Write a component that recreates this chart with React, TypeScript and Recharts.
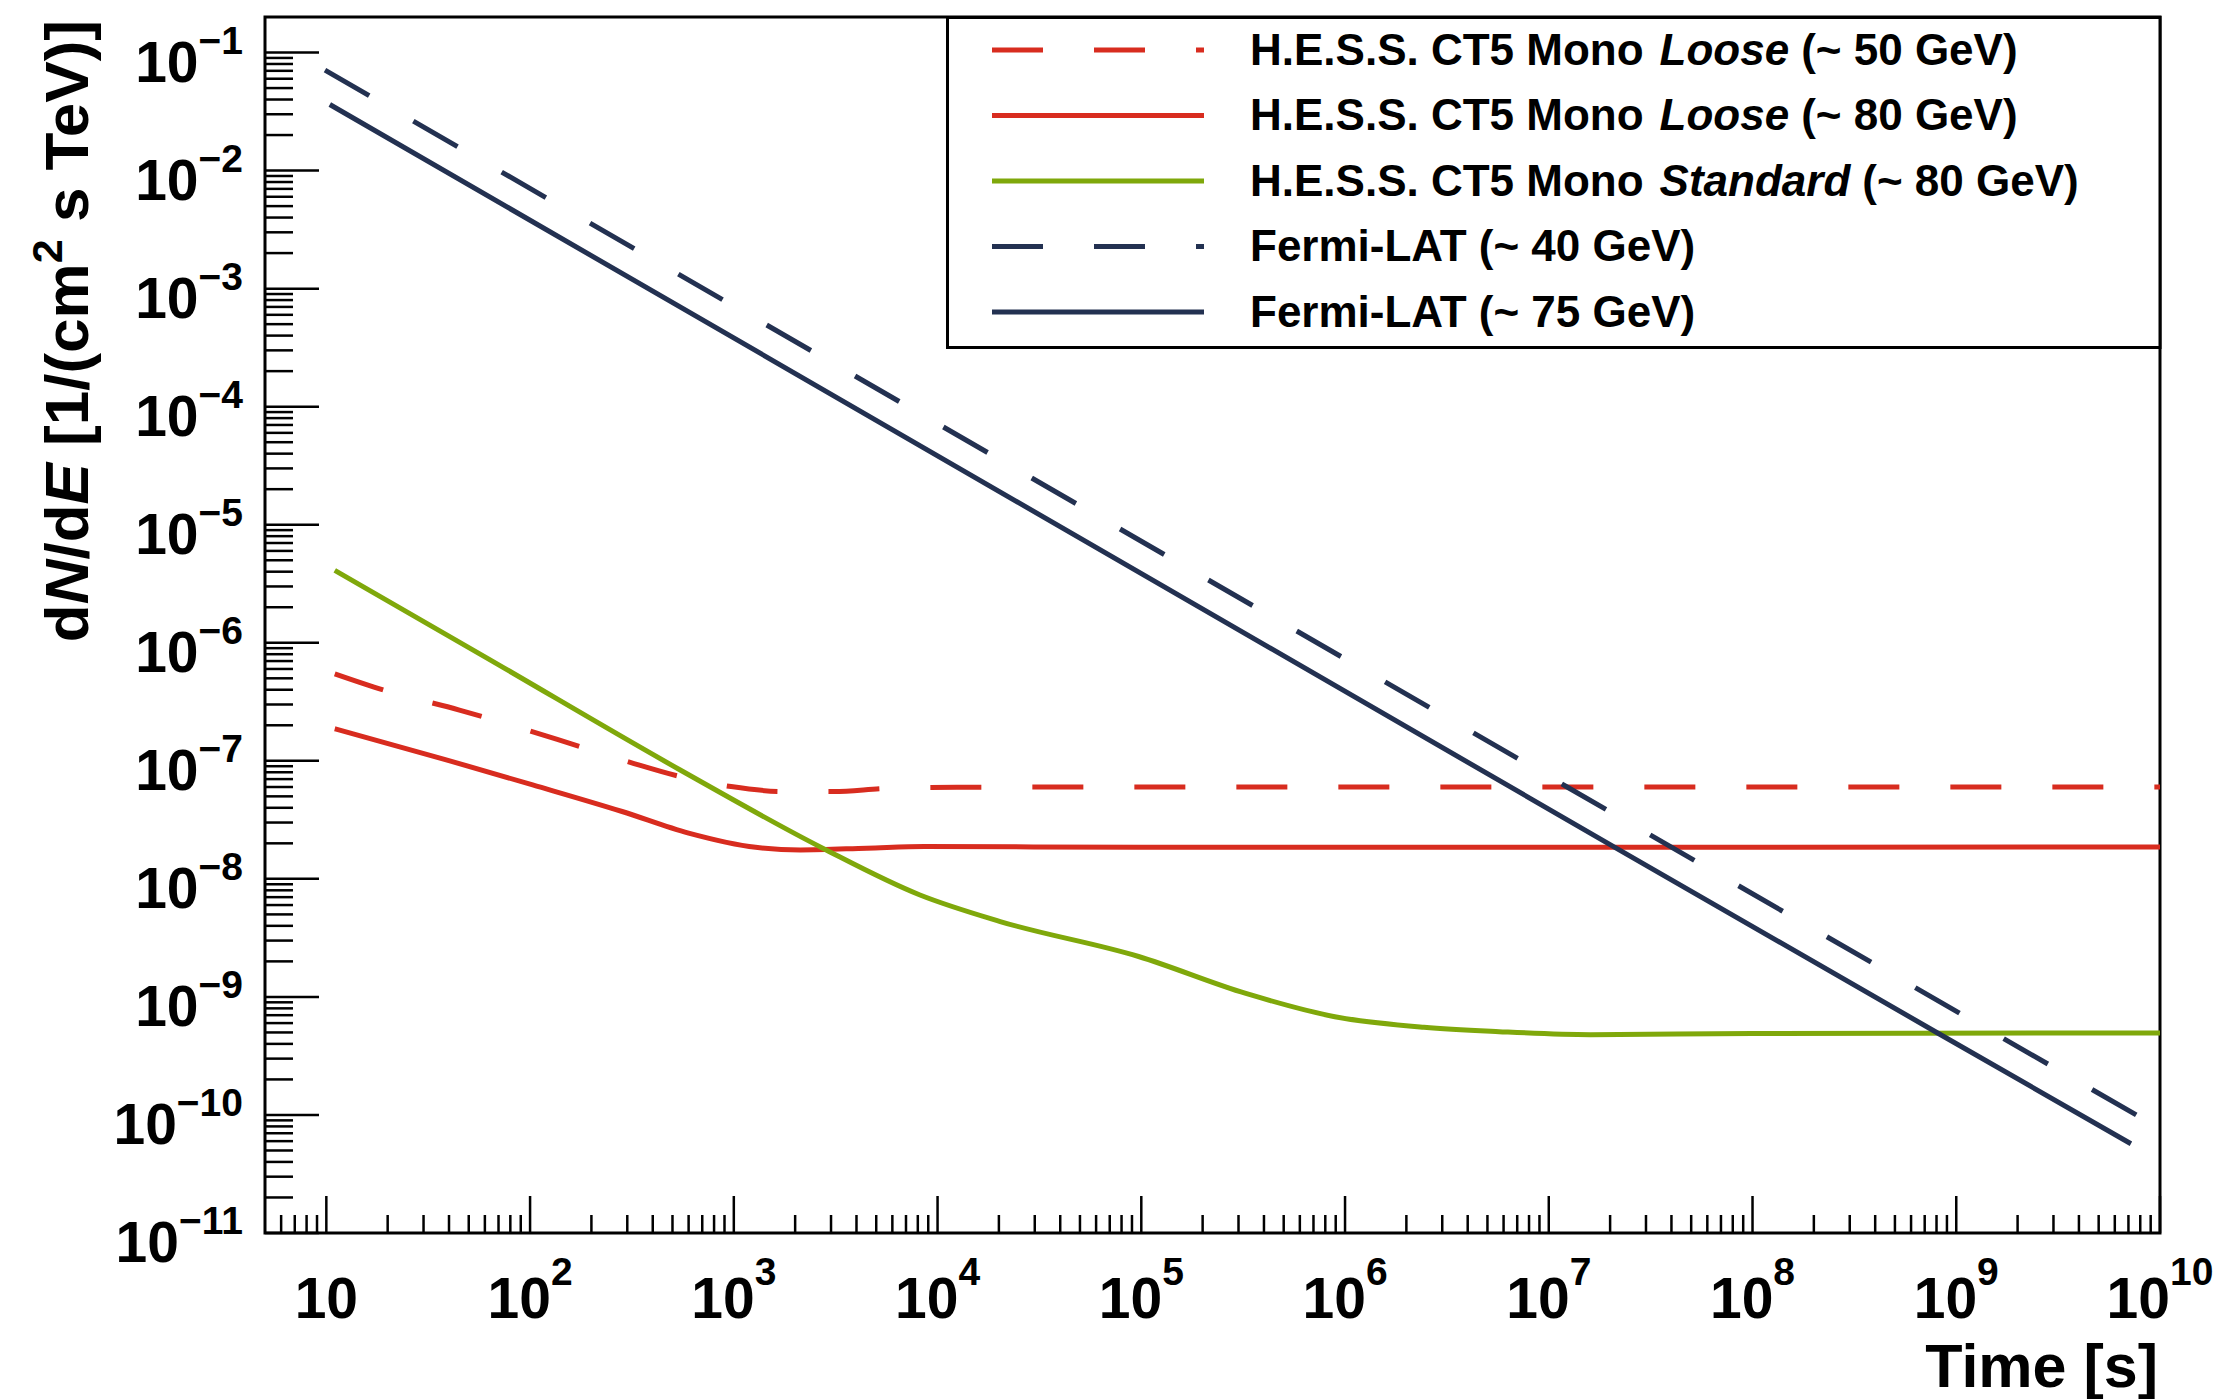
import React from "react";
import { LineChart, Line, XAxis, YAxis, ReferenceArea, Legend, Label } from "recharts";

// values: time [s] vs dN/dE [1/(cm^2 s TeV)]
const hessLoose50 = [
  { t: 11, v: 5.46e-7 },
  { t: 19, v: 3.99e-7 },
  { t: 45, v: 2.69e-7 },
  { t: 136, v: 1.52e-7 },
  { t: 310, v: 9.7e-8 },
  { t: 545, v: 7.36e-8 },
  { t: 970, v: 6.05e-8 },
  { t: 1720, v: 5.5e-8 },
  { t: 3100, v: 5.5e-8 },
  { t: 5500, v: 5.82e-8 },
  { t: 13000, v: 5.98e-8 },
  { t: 1e6, v: 6.0e-8 },
  { t: 1e10, v: 6.0e-8 },
];

const hessLoose80 = [
  { t: 11, v: 1.87e-7 },
  { t: 38, v: 1.03e-7 },
  { t: 103, v: 6.25e-8 },
  { t: 283, v: 3.72e-8 },
  { t: 600, v: 2.44e-8 },
  { t: 1280, v: 1.85e-8 },
  { t: 2120, v: 1.76e-8 },
  { t: 4500, v: 1.82e-8 },
  { t: 8600, v: 1.88e-8 },
  { t: 1e5, v: 1.85e-8 },
  { t: 1e10, v: 1.86e-8 },
];

const hessStandard80 = [
  { t: 11, v: 4.1e-6 },
  { t: 60, v: 7.6e-7 },
  { t: 543, v: 8.4e-8 },
  { t: 2730, v: 1.82e-8 },
  { t: 8200, v: 7.3e-9 },
  { t: 20300, v: 4.35e-9 },
  { t: 97000, v: 2.2e-9 },
  { t: 326000, v: 1.07e-9 },
  { t: 891000, v: 6.8e-10 },
  { t: 2.44e6, v: 5.53e-10 },
  { t: 5.7e6, v: 5.08e-10 },
  { t: 1.6e7, v: 4.79e-10 },
  { t: 1e8, v: 4.9e-10 },
  { t: 1e10, v: 4.95e-10 },
];

const fermi40 = [
  { t: 9.85, v: 7.1e-2 },
  { t: 1.23e7, v: 6.0e-8 },
  { t: 7.8e9, v: 9.8e-11 },
];

const fermi75 = [
  { t: 10.4, v: 3.63e-2 },
  { t: 2.1e7, v: 1.86e-8 },
  { t: 8.1e8, v: 4.95e-10 },
  { t: 7.2e9, v: 5.7e-11 },
];

const xExponents = [1, 2, 3, 4, 5, 6, 7, 8, 9, 10];
const yExponents = [-11, -10, -9, -8, -7, -6, -5, -4, -3, -2, -1];
const minorSteps = [2, 3, 4, 5, 6, 7, 8, 9];

const legendPre = ["H.E.S.S. CT5 Mono", "H.E.S.S. CT5 Mono", "H.E.S.S. CT5 Mono", "Fermi-LAT", "Fermi-LAT"];
const legendItalic = ["Loose", "Loose", "Standard", "", ""];
const legendPost = ["(~ 50 GeV)", "(~ 80 GeV)", "(~ 80 GeV)", "(~ 40 GeV)", "(~ 75 GeV)"];

const RED = "#d82c1f";
const GREEN = "#7fa80b";
const NAVY = "#233151";
const DASH = "51 51";
const FONT = "'Liberation Sans', Arial, Helvetica, sans-serif";

const series = [
  { key: "l50", data: hessLoose50, color: RED, dash: DASH, curve: "monotone" },
  { key: "l80", data: hessLoose80, color: RED, dash: undefined, curve: "monotone" },
  { key: "s80", data: hessStandard80, color: GREEN, dash: undefined, curve: "monotone" },
  { key: "f40", data: fermi40, color: NAVY, dash: DASH, curve: "linear" },
  { key: "f75", data: fermi75, color: NAVY, dash: undefined, curve: "linear" },
];

const X_MIN = 5;
const X_MAX = 1e10;
const Y_MIN = 1e-11;
const Y_MAX = 0.2;

const xTicks: number[] = [];
[0, ...xExponents].forEach((e) => {
  if (e >= 1) xTicks.push(Math.pow(10, e));
  if (e < 10) minorSteps.forEach((m) => {
    const v = m * Math.pow(10, e);
    if (v > X_MIN && v < X_MAX) xTicks.push(v);
  });
});

const yTicks: number[] = [];
yExponents.forEach((e) => {
  yTicks.push(Math.pow(10, e));
  minorSteps.forEach((m) => {
    const v = m * Math.pow(10, e);
    if (v < Y_MAX * 0.99) yTicks.push(v);
  });
});

const isMajor = (v: number) => {
  const e = Math.log10(v);
  return Math.abs(e - Math.round(e)) < 1e-6;
};

function XTick(props: any) {
  const { x, y, payload } = props;
  const major = isMajor(payload.value);
  const e = Math.round(Math.log10(payload.value));
  return (
    <g>
      <line x1={x} y1={y} x2={x} y2={y - (major ? 37 : 18)} stroke="#000" strokeWidth={2.5} />
      {major && (
        <text x={x} y={y + 85} textAnchor="middle" fontFamily={FONT} fontWeight="bold" fontSize={57} fill="#000">
          10
          {e !== 1 && (
            <tspan dy={-33} fontSize={39}>
              {e}
            </tspan>
          )}
        </text>
      )}
    </g>
  );
}

function YTick(props: any) {
  const { x, y, payload } = props;
  const major = isMajor(payload.value);
  const e = Math.round(Math.log10(payload.value));
  return (
    <g>
      <line x1={x} y1={y} x2={x + (major ? 54 : 28)} y2={y} stroke="#000" strokeWidth={2.5} />
      {major && (
        <text x={243} y={y + 29} textAnchor="end" fontFamily={FONT} fontWeight="bold" fontSize={57} fill="#000">
          10
          <tspan dy={-28} fontSize={39}>
            {"\u2212" + Math.abs(e)}
          </tspan>
        </text>
      )}
    </g>
  );
}

const renderXTitle = () => (
  <text x={2158} y={1387} textAnchor="end" fontFamily={FONT} fontWeight="bold" fontSize={61} fill="#000">
    Time [s]
  </text>
);

const renderYTitle = () => (
  <text
    x={88}
    y={20}
    transform="rotate(-90 88 20)"
    textAnchor="end"
    fontFamily={FONT}
    fontWeight="bold"
    fontSize={62}
    fill="#000"
  >
    d<tspan fontStyle="italic">N</tspan>/d<tspan fontStyle="italic">E</tspan> [1/(cm
    <tspan dy={-26} fontSize={43}>2</tspan>
    <tspan dy={26}> s TeV)]</tspan>
  </text>
);

function LegendBox() {
  const rows = [34, 99.5, 165, 230.5, 296];
  return (
    <svg width={1216} height={334} style={{ display: "block" }}>
      <rect x={1.5} y={1.5} width={1212.5} height={330} fill="#fff" stroke="#000" strokeWidth={3} />
      {series.map((s, i) => (
        <g key={s.key}>
          <line x1={46} y1={rows[i]} x2={258} y2={rows[i]} stroke={s.color} strokeWidth={5} strokeDasharray={s.dash} />
          <text x={304} y={rows[i] + 14.5} fontFamily={FONT} fontWeight="bold" fontSize={44} fill="#000">
            {legendPre[i]}
            {legendItalic[i] && (
              <tspan dx={16} fontStyle="italic">
                {legendItalic[i]}
              </tspan>
            )}
            <tspan dx={12}>{legendPost[i]}</tspan>
          </text>
        </g>
      ))}
    </svg>
  );
}

export default function App() {
  return (
    <div style={{ width: 2224, height: 1399, background: "#fff" }}>
      <style>{"body{margin:0}"}</style>
      <LineChart width={2224} height={1399} margin={{ top: 17, right: 64, left: 0, bottom: 0 }}>
        <XAxis
          dataKey="t"
          type="number"
          scale="log"
          domain={[X_MIN, X_MAX]}
          allowDataOverflow
          ticks={xTicks}
          interval={0}
          tick={<XTick />}
          tickLine={false}
          tickSize={0}
          tickMargin={0}
          axisLine={false}
          height={166}
        >
          <Label content={renderXTitle} />
        </XAxis>
        <YAxis
          dataKey="v"
          type="number"
          scale="log"
          domain={[Y_MIN, Y_MAX]}
          allowDataOverflow
          ticks={yTicks}
          interval={0}
          tick={<YTick />}
          tickLine={false}
          tickSize={0}
          tickMargin={0}
          axisLine={false}
          width={265}
        >
          <Label content={renderYTitle} />
        </YAxis>
        {series.map((s) => (
          <Line
            key={s.key}
            data={s.data}
            dataKey="v"
            type={s.curve as any}
            stroke={s.color}
            strokeWidth={5}
            strokeDasharray={s.dash}
            dot={false}
            activeDot={false}
            isAnimationActive={false}
          />
        ))}
        <ReferenceArea x1={X_MIN} x2={X_MAX} y1={Y_MIN} y2={Y_MAX} fill="none" stroke="#000" strokeWidth={3} />
        <Legend
          layout="vertical"
          align="center"
          verticalAlign="middle"
          wrapperStyle={{ left: 946, top: 15.5, width: 1216, height: 334 }}
          content={() => <LegendBox />}
        />
      </LineChart>
    </div>
  );
}
